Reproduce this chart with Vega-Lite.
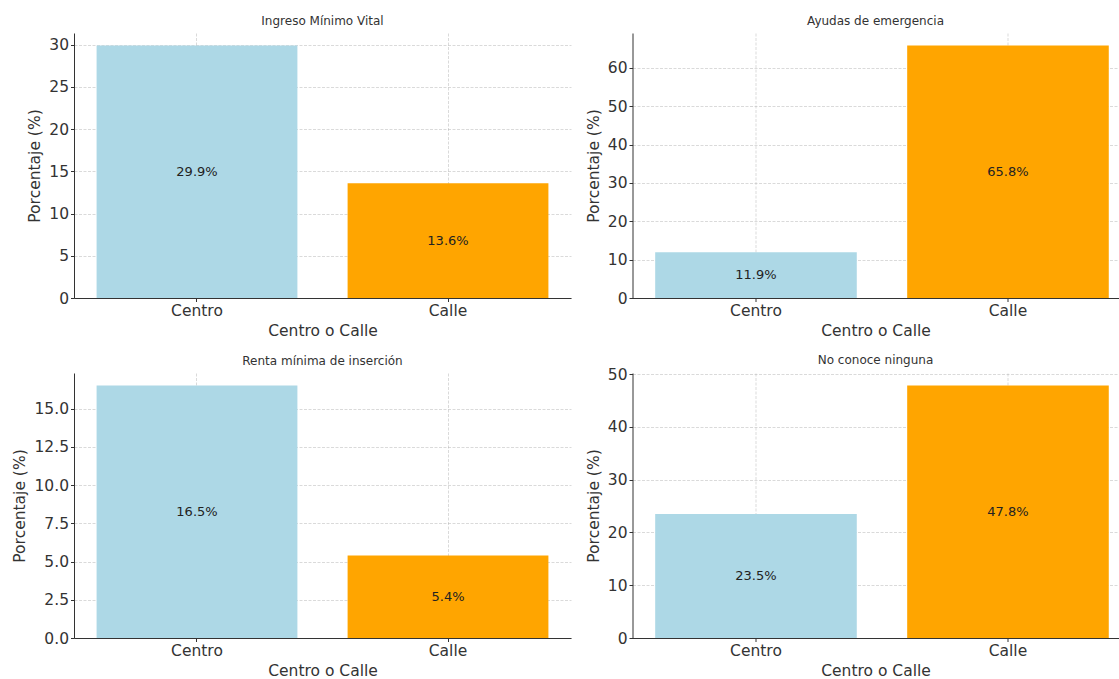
{
  "$schema": "https://vega.github.io/schema/vega-lite/v6.json",
  "background": "white",
  "padding": {"left": 12, "top": 15, "right": 0, "bottom": 0},
  "datasets": {
    "rows": [
      {"panel": "Ingreso Mínimo Vital", "loc": "Centro", "pct": 29.9, "label": "29.9%"},
      {"panel": "Ingreso Mínimo Vital", "loc": "Calle", "pct": 13.6, "label": "13.6%"},
      {"panel": "Ayudas de emergencia", "loc": "Centro", "pct": 11.9, "label": "11.9%"},
      {"panel": "Ayudas de emergencia", "loc": "Calle", "pct": 65.8, "label": "65.8%"},
      {"panel": "Renta mínima de inserción", "loc": "Centro", "pct": 16.5, "label": "16.5%"},
      {"panel": "Renta mínima de inserción", "loc": "Calle", "pct": 5.4, "label": "5.4%"},
      {"panel": "No conoce ninguna", "loc": "Centro", "pct": 23.5, "label": "23.5%"},
      {"panel": "No conoce ninguna", "loc": "Calle", "pct": 47.8, "label": "47.8%"}
    ]
  },
  "columns": 2,
  "align": "each",
  "spacing": {"column": 14.5, "row": 15},
  "config": {
    "font": "DejaVu Sans",
    "view": {"stroke": null},
    "axis": {
      "labelFontSize": 15.5, "titleFontSize": 15.5,
      "labelColor": "#333", "titleColor": "#333", "titleFontWeight": "normal",
      "domainColor": "#333", "domainWidth": 1, "tickColor": "#333", "tickSize": 3.5,
      "labelPadding": 2, "gridColor": "#b0b0b0", "gridDash": [3, 1.5], "gridWidth": 0.8, "gridOpacity": 0.6,
      "zindex": 1
    },
    "axisX": {"titlePadding": 4},
    "axisY": {"titlePadding": 6},
    "title": {"fontSize": 12, "fontWeight": "normal", "color": "#333", "offset": 5, "frame": "group", "anchor": "middle"}
  },
  "concat": [
    {
      "title": "Ingreso Mínimo Vital",
      "width": 497, "height": 265,
      "data": {"name": "rows"},
      "transform": [{"filter": {"field": "panel", "equal": "Ingreso Mínimo Vital"}}],
      "encoding": {
        "x": {"field": "loc", "type": "nominal", "sort": ["Centro", "Calle"],
              "scale": {"paddingInner": 0.2, "paddingOuter": 0.09},
              "axis": {"title": "Centro o Calle", "labelAngle": 0, "grid": true, "bandPosition": 0.5}}
      },
      "layer": [
        {"mark": "bar", "encoding": {
          "y": {"field": "pct", "type": "quantitative", "scale": {"domain": [0, 31.395], "nice": false},
                "axis": {"title": "Porcentaje (%)", "grid": true, "values": [0, 5, 10, 15, 20, 25, 30]}},
          "color": {"field": "loc", "type": "nominal", "scale": {"domain": ["Centro", "Calle"], "range": ["#ADD8E6", "#FFA500"]}, "legend": null}}},
        {"mark": {"type": "text", "fontSize": 13, "color": "#222", "baseline": "middle"}, "encoding": {
          "y": {"field": "pct", "type": "quantitative", "scale": {"domain": [0, 62.79], "nice": false}, "axis": null},
          "text": {"field": "label"}}}
      ],
      "resolve": {"scale": {"y": "independent"}}
    },
    {
      "title": "Ayudas de emergencia",
      "width": 486, "height": 265,
      "data": {"name": "rows"},
      "transform": [{"filter": {"field": "panel", "equal": "Ayudas de emergencia"}}],
      "encoding": {
        "x": {"field": "loc", "type": "nominal", "sort": ["Centro", "Calle"],
              "scale": {"paddingInner": 0.2, "paddingOuter": 0.0643, "align": 0.7},
              "axis": {"title": "Centro o Calle", "labelAngle": 0, "grid": true, "bandPosition": 0.5}}
      },
      "layer": [
        {"mark": "bar", "encoding": {
          "y": {"field": "pct", "type": "quantitative", "scale": {"domain": [0, 69.09], "nice": false},
                "axis": {"title": "Porcentaje (%)", "grid": true, "values": [0, 10, 20, 30, 40, 50, 60]}},
          "color": {"field": "loc", "type": "nominal", "scale": {"domain": ["Centro", "Calle"], "range": ["#ADD8E6", "#FFA500"]}, "legend": null}}},
        {"mark": {"type": "text", "fontSize": 13, "color": "#222", "baseline": "middle"}, "encoding": {
          "y": {"field": "pct", "type": "quantitative", "scale": {"domain": [0, 138.18], "nice": false}, "axis": null},
          "text": {"field": "label"}}}
      ],
      "resolve": {"scale": {"y": "independent"}}
    },
    {
      "title": "Renta mínima de inserción",
      "width": 497, "height": 265,
      "data": {"name": "rows"},
      "transform": [{"filter": {"field": "panel", "equal": "Renta mínima de inserción"}}],
      "encoding": {
        "x": {"field": "loc", "type": "nominal", "sort": ["Centro", "Calle"],
              "scale": {"paddingInner": 0.2, "paddingOuter": 0.09},
              "axis": {"title": "Centro o Calle", "labelAngle": 0, "grid": true, "bandPosition": 0.5}}
      },
      "layer": [
        {"mark": "bar", "encoding": {
          "y": {"field": "pct", "type": "quantitative", "scale": {"domain": [0, 17.325], "nice": false},
                "axis": {"title": "Porcentaje (%)", "grid": true, "format": ".1f", "values": [0, 2.5, 5, 7.5, 10, 12.5, 15]}},
          "color": {"field": "loc", "type": "nominal", "scale": {"domain": ["Centro", "Calle"], "range": ["#ADD8E6", "#FFA500"]}, "legend": null}}},
        {"mark": {"type": "text", "fontSize": 13, "color": "#222", "baseline": "middle"}, "encoding": {
          "y": {"field": "pct", "type": "quantitative", "scale": {"domain": [0, 34.65], "nice": false}, "axis": null},
          "text": {"field": "label"}}}
      ],
      "resolve": {"scale": {"y": "independent"}}
    },
    {
      "title": {"text": "No conoce ninguna", "dy": 5},
      "width": 486, "height": 265,
      "data": {"name": "rows"},
      "transform": [{"filter": {"field": "panel", "equal": "No conoce ninguna"}}],
      "encoding": {
        "x": {"field": "loc", "type": "nominal", "sort": ["Centro", "Calle"],
              "scale": {"paddingInner": 0.2, "paddingOuter": 0.0643, "align": 0.7},
              "axis": {"title": "Centro o Calle", "labelAngle": 0, "grid": true, "bandPosition": 0.5}}
      },
      "layer": [
        {"mark": "bar", "encoding": {
          "y": {"field": "pct", "type": "quantitative", "scale": {"domain": [0, 50.19], "nice": false},
                "axis": {"title": "Porcentaje (%)", "grid": true, "values": [0, 10, 20, 30, 40, 50]}},
          "color": {"field": "loc", "type": "nominal", "scale": {"domain": ["Centro", "Calle"], "range": ["#ADD8E6", "#FFA500"]}, "legend": null}}},
        {"mark": {"type": "text", "fontSize": 13, "color": "#222", "baseline": "middle"}, "encoding": {
          "y": {"field": "pct", "type": "quantitative", "scale": {"domain": [0, 100.38], "nice": false}, "axis": null},
          "text": {"field": "label"}}}
      ],
      "resolve": {"scale": {"y": "independent"}}
    }
  ]
}
